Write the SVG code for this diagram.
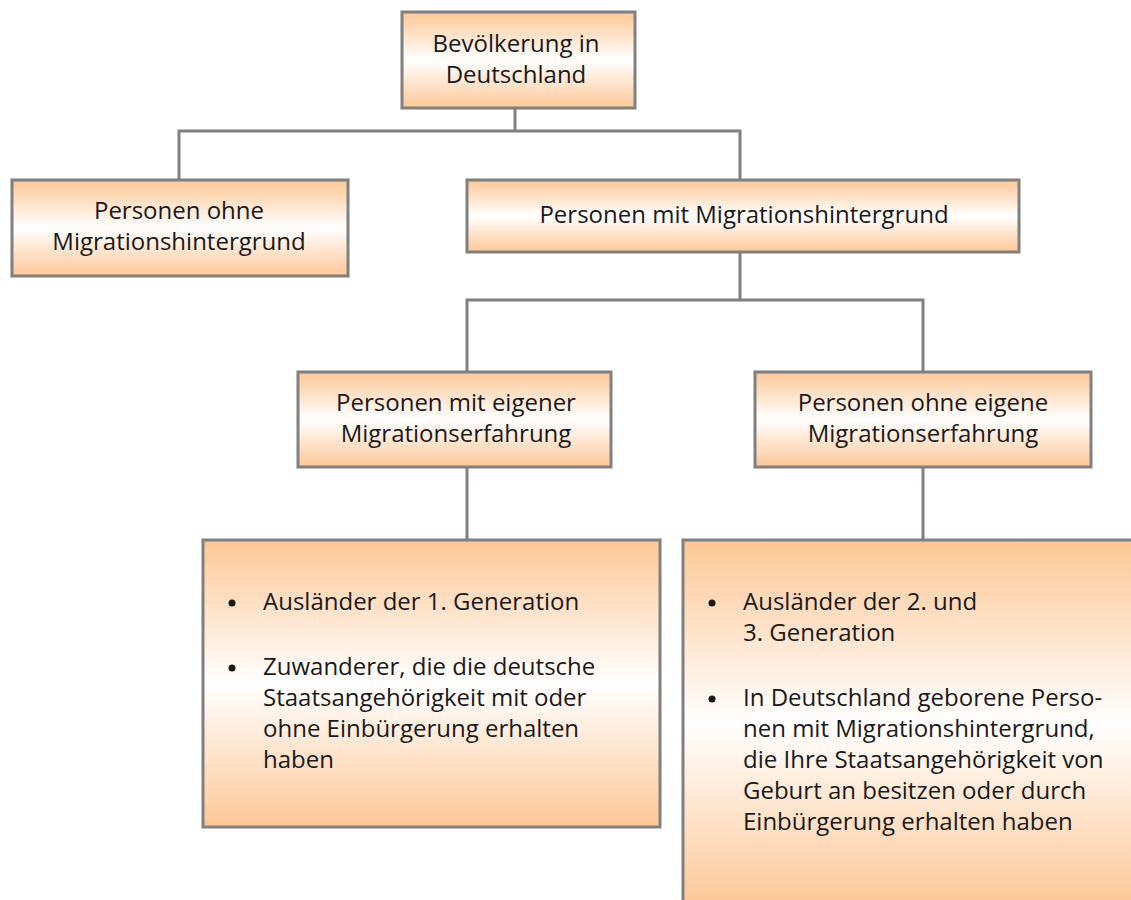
<svg xmlns="http://www.w3.org/2000/svg" width="1131" height="900" viewBox="0 0 1131 900">
<defs>
<linearGradient id="g" x1="0" y1="0" x2="0" y2="1">
<stop offset="0" stop-color="#FDC796"/>
<stop offset="0.5" stop-color="#FFFFFF"/>
<stop offset="1" stop-color="#FDC796"/>
</linearGradient>
<style>
.box{fill:url(#g);stroke:#808080;stroke-width:3}
.t{font-family:"Open Sans","Liberation Sans",sans-serif;font-size:24px;fill:#1a1a1a}
.c{text-anchor:middle}
.ln{fill:none;stroke:#808080;stroke-width:3}
</style>
</defs>
<rect width="1131" height="900" fill="#ffffff"/>
<g id="connectors">
<path class="ln" d="M515 108V131M179 180V131H740V180"/>
<path class="ln" d="M740 252V300M467 372V300H923V372"/>
<path class="ln" d="M467 467V540M923 467V540"/>
</g>
<g id="bevoelkerung">
<rect class="box" x="402" y="12" width="233" height="96"/>
<text class="t c" x="516" y="52">Bevölkerung in</text>
<text class="t c" x="516" y="83">Deutschland</text>
</g>
<g id="ohne-migration">
<rect class="box" x="12" y="180" width="336" height="96"/>
<text class="t c" x="179" y="219">Personen ohne</text>
<text class="t c" x="179" y="250">Migrationshintergrund</text>
</g>
<g id="mit-migration">
<rect class="box" x="467" y="180" width="552" height="72"/>
<text class="t c" x="744" y="223">Personen mit Migrationshintergrund</text>
</g>
<g id="mit-erfahrung">
<rect class="box" x="298" y="372" width="313" height="95"/>
<text class="t c" x="456" y="411">Personen mit eigener</text>
<text class="t c" x="456" y="442">Migrationserfahrung</text>
</g>
<g id="ohne-erfahrung">
<rect class="box" x="755" y="372" width="336" height="95"/>
<text class="t c" x="923" y="411">Personen ohne eigene</text>
<text class="t c" x="923" y="442">Migrationserfahrung</text>
</g>
<g id="liste-1">
<rect class="box" x="203" y="540" width="457" height="287"/>
<circle cx="232" cy="603" r="3.5" fill="#1a1a1a"/>
<text class="t" x="263" y="610">Ausländer der 1. Generation</text>
<circle cx="232" cy="668" r="3.5" fill="#1a1a1a"/>
<text class="t" x="263" y="675">Zuwanderer, die die deutsche</text>
<text class="t" x="263" y="706">Staatsangehörigkeit mit oder</text>
<text class="t" x="263" y="737">ohne Einbürgerung erhalten</text>
<text class="t" x="263" y="768">haben</text>
</g>
<g id="liste-2">
<rect class="box" x="683" y="540" width="460" height="366"/>
<circle cx="712" cy="603" r="3.5" fill="#1a1a1a"/>
<text class="t" x="743" y="610">Ausländer der 2. und</text>
<text class="t" x="743" y="641">3. Generation</text>
<circle cx="712" cy="699" r="3.5" fill="#1a1a1a"/>
<text class="t" x="743" y="706">In Deutschland geborene Perso-</text>
<text class="t" x="743" y="737">nen mit Migrationshintergrund,</text>
<text class="t" x="743" y="768">die Ihre Staatsangehörigkeit von</text>
<text class="t" x="743" y="799">Geburt an besitzen oder durch</text>
<text class="t" x="743" y="830">Einbürgerung erhalten haben</text>
</g>
</svg>
